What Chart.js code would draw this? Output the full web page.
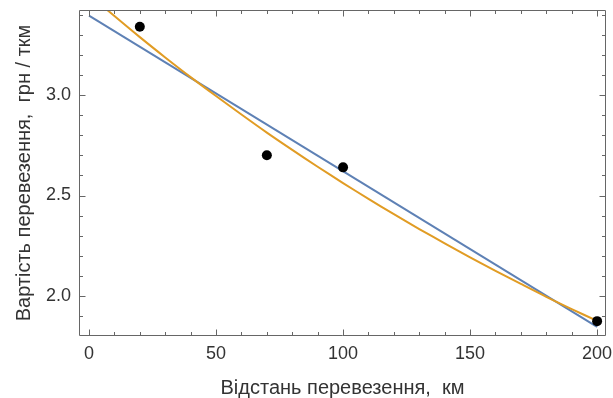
<!DOCTYPE html>
<html>
<head>
<meta charset="utf-8">
<script src="https://cdn.jsdelivr.net/npm/chart.js@4/dist/chart.umd.min.js"></script>
<style>
html,body{margin:0;padding:0;background:#fff;}
#wrap{width:613px;height:398px;}
</style>
</head>
<body>
<div id="wrap"><canvas id="c" width="613" height="398"></canvas></div>
<script>
// Observed points
const pointX = [20, 70, 100, 200];
const pointY = [3.34, 2.70, 2.64, 1.875];
// Linear fit (blue)
const linX = [0, 200];
const linY = [3.395, 1.846];
// Curved fit (orange)
const curveX = [0, 10, 20, 30, 40, 50, 60, 70, 80, 90, 100, 110, 120, 130, 140, 150, 160, 170, 180, 190, 200];
const curveY = [3.500, 3.393, 3.288, 3.187, 3.089, 2.995, 2.903, 2.813, 2.727, 2.643, 2.562, 2.483, 2.407, 2.333, 2.262, 2.192, 2.125, 2.060, 1.996, 1.935, 1.876];
// Tick labels
const xTicks = [0, 50, 100, 150, 200];
const yTicks = [2.0, 2.5, 3.0];
const xTitle = 'Відстань перевезення,  км';
const yTitle = 'Вартість перевезення,  грн / ткм';

const toXY = (xs, ys) => xs.map((x, i) => ({x: x, y: ys[i]}));

const FRAME = '#666666';
const TEXT = '#333333';
const FONT = 'Liberation Sans, Arial, sans-serif';

const framePlugin = {
  id: 'frameTicks',
  afterDatasetsDraw(chart) {
    const {ctx, chartArea: a, scales: {x, y}} = chart;
    ctx.save();
    ctx.strokeStyle = FRAME;
    ctx.lineWidth = 1;
    const L = Math.round(a.left) + 0.5, R = Math.round(a.right) - 0.5;
    const T = Math.round(a.top) + 0.5, B = Math.round(a.bottom) - 0.5;
    ctx.beginPath();
    ctx.rect(L, T, R - L, B - T);
    // x ticks (bottom & top)
    for (let v = 0; v <= 200; v += 10) {
      const len = (v % 50 === 0) ? 6 : 3.5;
      const px = Math.round(x.getPixelForValue(v)) + 0.5;
      ctx.moveTo(px, B); ctx.lineTo(px, B - len);
      ctx.moveTo(px, T); ctx.lineTo(px, T + len);
    }
    // y ticks (left & right)
    for (let k = 19; k <= 34; k++) {
      const v = k / 10;
      const len = (k % 5 === 0) ? 6 : 3.5;
      const py = Math.round(y.getPixelForValue(v)) + 0.5;
      ctx.moveTo(L, py); ctx.lineTo(L + len, py);
      ctx.moveTo(R, py); ctx.lineTo(R - len, py);
    }
    ctx.stroke();
    ctx.restore();
  }
};

new Chart(document.getElementById('c'), {
  type: 'scatter',
  data: {
    datasets: [
      {
        label: 'points',
        data: toXY(pointX, pointY),
        pointRadius: 5,
        pointBackgroundColor: '#000',
        pointBorderColor: '#000',
        pointBorderWidth: 0,
        showLine: false
      },
      {
        label: 'curve',
        data: toXY(curveX, curveY),
        showLine: true,
        borderColor: '#E19C24',
        borderWidth: 2,
        pointRadius: 0,
        tension: 0.3,
        fill: false
      },
      {
        label: 'linear',
        data: toXY(linX, linY),
        showLine: true,
        borderColor: '#5E81B5',
        borderWidth: 2,
        pointRadius: 0,
        fill: false
      }
    ]
  },
  options: {
    responsive: false,
    animation: false,
    events: [],
    layout: {padding: {left: 0, top: 10, right: 7, bottom: 0}},
    plugins: {legend: {display: false}, tooltip: {enabled: false}},
    scales: {
      x: {
        type: 'linear',
        min: -3.94,
        max: 203.5,
        afterBuildTicks: (s) => { s.ticks = xTicks.map(v => ({value: v})); },
        afterFit: (s) => { s.height = 62; s.paddingLeft = 0; s.paddingRight = 0; },
        grid: {display: false, drawTicks: false},
        border: {display: false},
        ticks: {
          padding: 7,
          color: TEXT,
          font: {family: FONT, size: 18},
          maxRotation: 0,
          autoSkip: false,
          callback: (v) => String(v)
        },
        title: {
          display: true,
          text: xTitle,
          color: TEXT,
          font: {family: FONT, size: 20, lineHeight: 1},
          padding: {top: 0, bottom: 0}
        }
      },
      y: {
        type: 'linear',
        min: 1.801,
        max: 3.423,
        afterBuildTicks: (s) => { s.ticks = yTicks.map(v => ({value: v})); },
        afterFit: (s) => { s.width = 79; s.paddingTop = 0; s.paddingBottom = 0; },
        grid: {display: false, drawTicks: false},
        border: {display: false},
        ticks: {
          padding: 8,
          color: TEXT,
          font: {family: FONT, size: 18},
          autoSkip: false,
          callback: (v) => Number(v).toFixed(1)
        },
        title: {
          display: true,
          text: yTitle,
          color: TEXT,
          font: {family: FONT, size: 20, lineHeight: 1},
          padding: {top: 14, bottom: 0}
        }
      }
    }
  },
  plugins: [framePlugin]
});
</script>
</body>
</html>
